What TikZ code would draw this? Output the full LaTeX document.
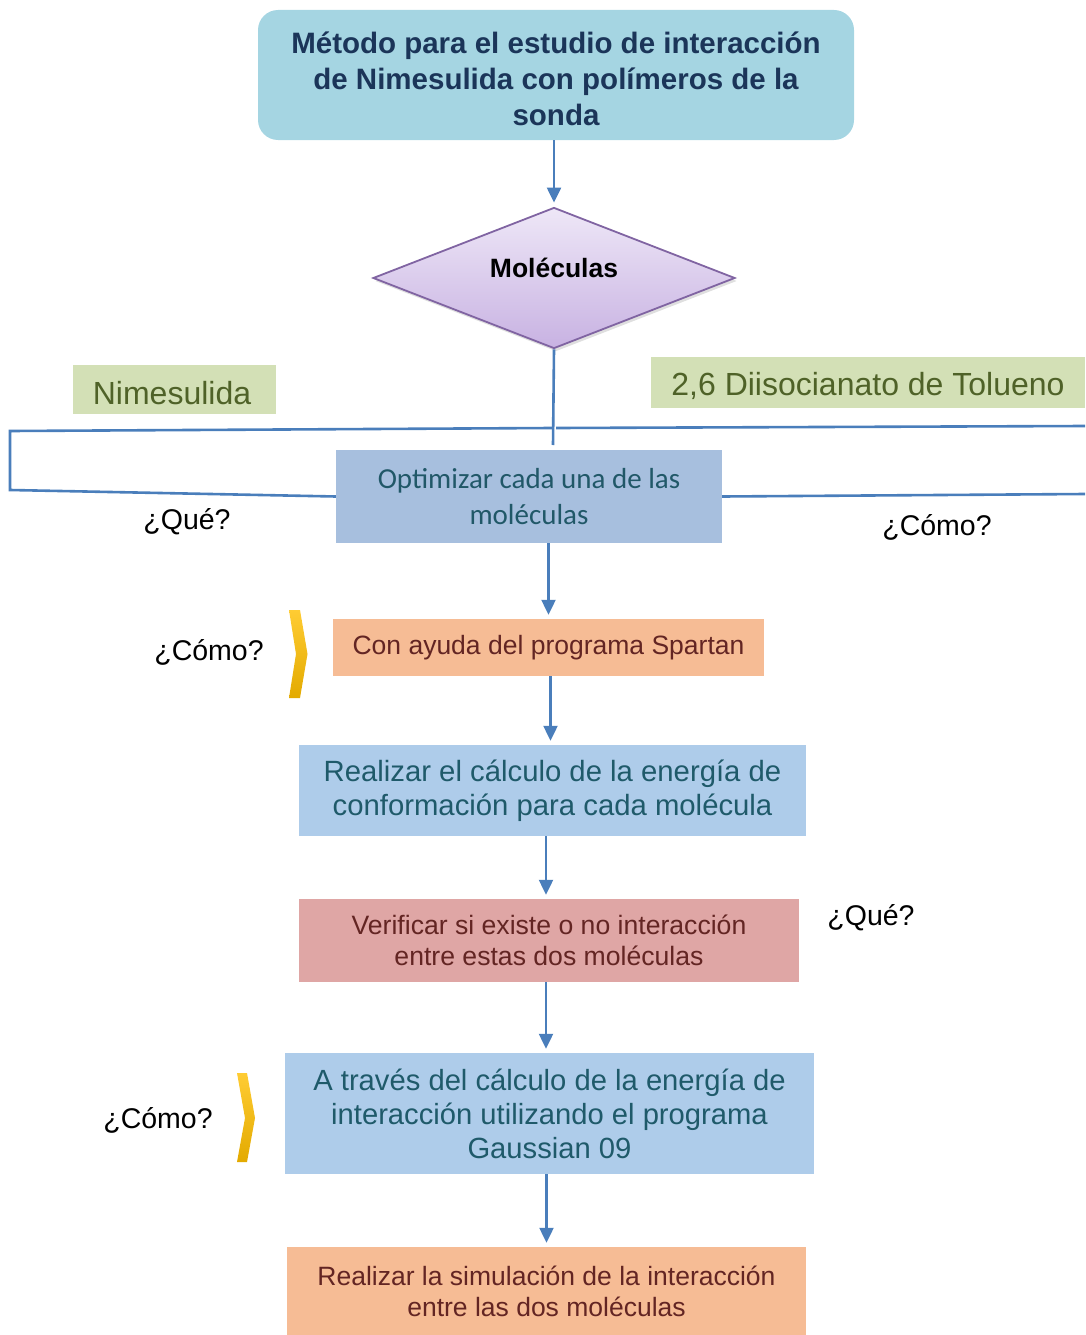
\documentclass[tikz,border=0pt]{standalone}
\usepackage{fontspec}
\setmainfont{Liberation Sans}
\newfontfamily\calfont{Carlito}
\usetikzlibrary{shapes.geometric,arrows.meta,shadows}
\definecolor{titlefill}{HTML}{A5D5E2}
\definecolor{titletext}{HTML}{1B3559}
\definecolor{diatop}{HTML}{EEE7F7}
\definecolor{diabot}{HTML}{C8B2E2}
\definecolor{diaborder}{HTML}{8064A2}
\definecolor{greenfill}{HTML}{D3E0B6}
\definecolor{greentext}{HTML}{4F6228}
\definecolor{optfill}{HTML}{A7BFDE}
\definecolor{opttext}{HTML}{215868}
\definecolor{peach}{HTML}{F6BC95}
\definecolor{lightblue}{HTML}{AECCEA}
\definecolor{pinkfill}{HTML}{DFA6A5}
\definecolor{redtext}{HTML}{632523}
\definecolor{bluetext}{HTML}{1F5A6A}
\definecolor{arrowblue}{HTML}{4A7EBB}
\definecolor{goldtop}{HTML}{FFCC33}
\definecolor{goldbot}{HTML}{E3AA00}
\begin{document}
\begin{tikzpicture}[x=1pt,y=-1pt,
  titlebox/.style={fill=titlefill, rounded corners=20pt, minimum width=596pt, minimum height=130pt,
    inner sep=0pt},
  titletxt/.style={inner sep=0pt, align=center, text=titletext, font=\bfseries\fontsize{29.5}{36}\selectfont},
  dia/.style={diamond, minimum width=362pt, minimum height=141pt, inner sep=0pt, draw=diaborder,
    line width=1.8pt, top color=diatop, bottom color=diabot,
    drop shadow={opacity=0.25, shadow xshift=2pt, shadow yshift=-3pt}},
  greenbox/.style={fill=greenfill, inner sep=0pt},
  greentxt/.style={inner sep=0pt, text=greentext, font=\fontsize{32}{37}\selectfont},
  flowbox/.style={inner sep=0pt, align=center},
  qtext/.style={inner sep=0pt, text=black, font=\fontsize{28.5}{33}\selectfont},
  arr/.style={draw=arrowblue, line width=2.2pt, -{Triangle[width=14pt,length=15pt]}, shorten >=4pt},
  conn/.style={draw=arrowblue, line width=2.6pt},
  chev/.style={top color=goldtop, bottom color=goldbot, draw=none}
]
\useasboundingbox (0,0) rectangle (1085,1335);

% title
\node[titlebox] (t) at (556,75) {};
\node[titletxt] (ttext) at (556,79) {Método para el estudio de interacción\\de Nimesulida con polímeros de la\\sonda};

% diamond
\node[dia] (d) at (554,278) {};
\node[inner sep=0pt, font=\bfseries\fontsize{26.5}{30}\selectfont] (dtext) at (554,268) {Moléculas};

\draw[arr] (t.south -| d.north) -- (d.north);

% green labels
\node[greenbox, minimum width=203pt, minimum height=49pt] (nim) at (174.5,389.5) {};
\node[greentxt] (nimt) at (172,393) {Nimesulida};
\node[greenbox, minimum width=434pt, minimum height=51pt] (tol) at (868,382.5) {};
\node[greentxt] (tolt) at (868,385.5) {2,6 Diisocianato de Tolueno};

% optimizar
\node[flowbox, fill=optfill, minimum width=386pt, minimum height=93pt, text=opttext,
  font=\calfont\fontsize{29}{36}\selectfont] (o) at (529,496.5) {Optimizar cada una de las\\moléculas};

\coordinate (c1) at (553,445);
\coordinate (lt) at (552,428);
\coordinate (ltl) at (10,431);
\coordinate (lbl) at (10,490);
\coordinate (rt) at (556,428);
\coordinate (rtr) at (1085,426);
\coordinate (rbr) at (1085,494);
\draw[conn] (d.south) -- (c1);
\draw[conn] (lt) -- (ltl) -- (lbl) -- (o.west);
\draw[conn] (rt) -- (rtr);
\draw[conn] (o.east) -- (rbr);

\node[qtext] (q1) at (187,522) {¿Qué?};
\node[qtext] (q2) at (937,527) {¿Cómo?};

% spartan
\node[flowbox, fill=peach, minimum width=431pt, minimum height=57pt, text=redtext,
  font=\fontsize{26.5}{31}\selectfont] (sp) at (548.5,647.5) {Con ayuda del programa Spartan};
\draw[arr] (sp.north |- o.south) -- (sp.north);

\node[qtext] (q3) at (209,652) {¿Cómo?};
\path[chev] (289,610) -- (300,610) -- (307.5,654) -- (300,698) -- (289,698) -- (296,654) -- cycle;

% realizar calculo
\node[flowbox, fill=lightblue, minimum width=507pt, minimum height=91pt, text=bluetext,
  font=\fontsize{29.3}{34}\selectfont] (re) at (552.5,790.5) {Realizar el cálculo de la energía de\\conformación para cada molécula};
\draw[arr] ([xshift=2pt]sp.south) -- ([xshift=2pt]sp.south |- re.north);

% verificar
\node[flowbox, fill=pinkfill, minimum width=500pt, minimum height=83pt, text=redtext,
  font=\fontsize{26.6}{31}\selectfont] (ve) at (549,940.5) {Verificar si existe o no interacción\\entre estas dos moléculas};
\draw[arr] ([xshift=-3pt]ve.north |- re.south) -- ([xshift=-3pt]ve.north);

\node[qtext] (q4) at (871,918) {¿Qué?};

% a traves
\node[flowbox, fill=lightblue, minimum width=529pt, minimum height=121pt, text=bluetext,
  font=\fontsize{29.2}{34}\selectfont] (at) at (549.5,1113.5) {A través del cálculo de la energía de\\interacción utilizando el programa\\Gaussian 09};
\draw[arr] ([xshift=-3pt]ve.south) -- ([xshift=-3pt]ve.south |- at.north);

\node[qtext] (q5) at (158,1120) {¿Cómo?};
\path[chev] (237,1073) -- (247,1073) -- (255,1118) -- (247,1162) -- (237,1162) -- (245,1118) -- cycle;

% simulacion
\node[flowbox, fill=peach, minimum width=519pt, minimum height=88pt, text=redtext,
  font=\fontsize{26.5}{31}\selectfont] (si) at (546.5,1291) {Realizar la simulación de la interacción\\entre las dos moléculas};
\draw[arr] (si.north |- at.south) -- (si.north);
\end{tikzpicture}
\end{document}
